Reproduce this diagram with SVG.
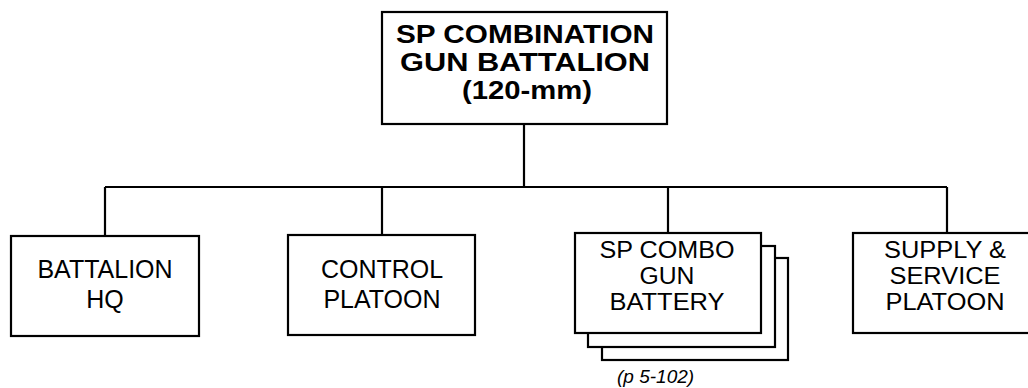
<svg xmlns="http://www.w3.org/2000/svg" width="1028" height="388" viewBox="0 0 1028 388">
<style>
.box{fill:#fff;stroke:#000;stroke-width:2.2}
.ln{fill:none;stroke:#000;stroke-width:2.2}
.t{font-family:"Liberation Sans",Arial,sans-serif;font-size:25px;fill:#000;text-anchor:middle}
.s{font-size:23px}
.b{font-weight:bold;font-size:25px}
.lbl{font-family:"Liberation Sans",Arial,sans-serif;font-size:19px;font-style:italic;fill:#000}
</style>
<rect width="1028" height="388" fill="#fff"/>
<g id="connectors">
<path class="ln" d="M524 124V187M105 187H947M105 187V236M382 187V235M668 187V233M947 187V233"/>
</g>
<g id="top">
<rect class="box" x="382" y="12" width="285" height="112"/>
<text class="t b" x="525" y="43" textLength="258" lengthAdjust="spacingAndGlyphs">SP COMBINATION</text>
<text class="t b" x="525" y="71" textLength="250" lengthAdjust="spacingAndGlyphs">GUN BATTALION</text>
<text class="t b" x="527" y="99" textLength="130" lengthAdjust="spacingAndGlyphs">(120-mm)</text>
</g>
<g id="hq">
<rect class="box" x="11" y="236" width="188" height="100"/>
<text class="t" x="105" y="278">BATTALION</text>
<text class="t" x="105" y="308">HQ</text>
</g>
<g id="control">
<rect class="box" x="288" y="235" width="187" height="100"/>
<text class="t" x="382" y="278">CONTROL</text>
<text class="t" x="382" y="308">PLATOON</text>
</g>
<g id="battery">
<rect class="box" x="602" y="258" width="186" height="102"/>
<rect class="box" x="588" y="246" width="187" height="101"/>
<rect class="box" x="575" y="233" width="186" height="100"/>
<text class="t s" x="667" y="258" textLength="135" lengthAdjust="spacingAndGlyphs">SP COMBO</text>
<text class="t s" x="667" y="284" textLength="55" lengthAdjust="spacingAndGlyphs">GUN</text>
<text class="t s" x="667" y="310" textLength="115" lengthAdjust="spacingAndGlyphs">BATTERY</text>
<text class="lbl" x="617" y="383">(p 5-102)</text>
</g>
<g id="supply">
<rect class="box" x="853" y="233" width="190" height="100"/>
<text class="t s" x="945" y="258" textLength="122" lengthAdjust="spacingAndGlyphs">SUPPLY &amp;</text>
<text class="t s" x="945" y="284" textLength="111" lengthAdjust="spacingAndGlyphs">SERVICE</text>
<text class="t s" x="945" y="310" textLength="119" lengthAdjust="spacingAndGlyphs">PLATOON</text>
</g>
</svg>
